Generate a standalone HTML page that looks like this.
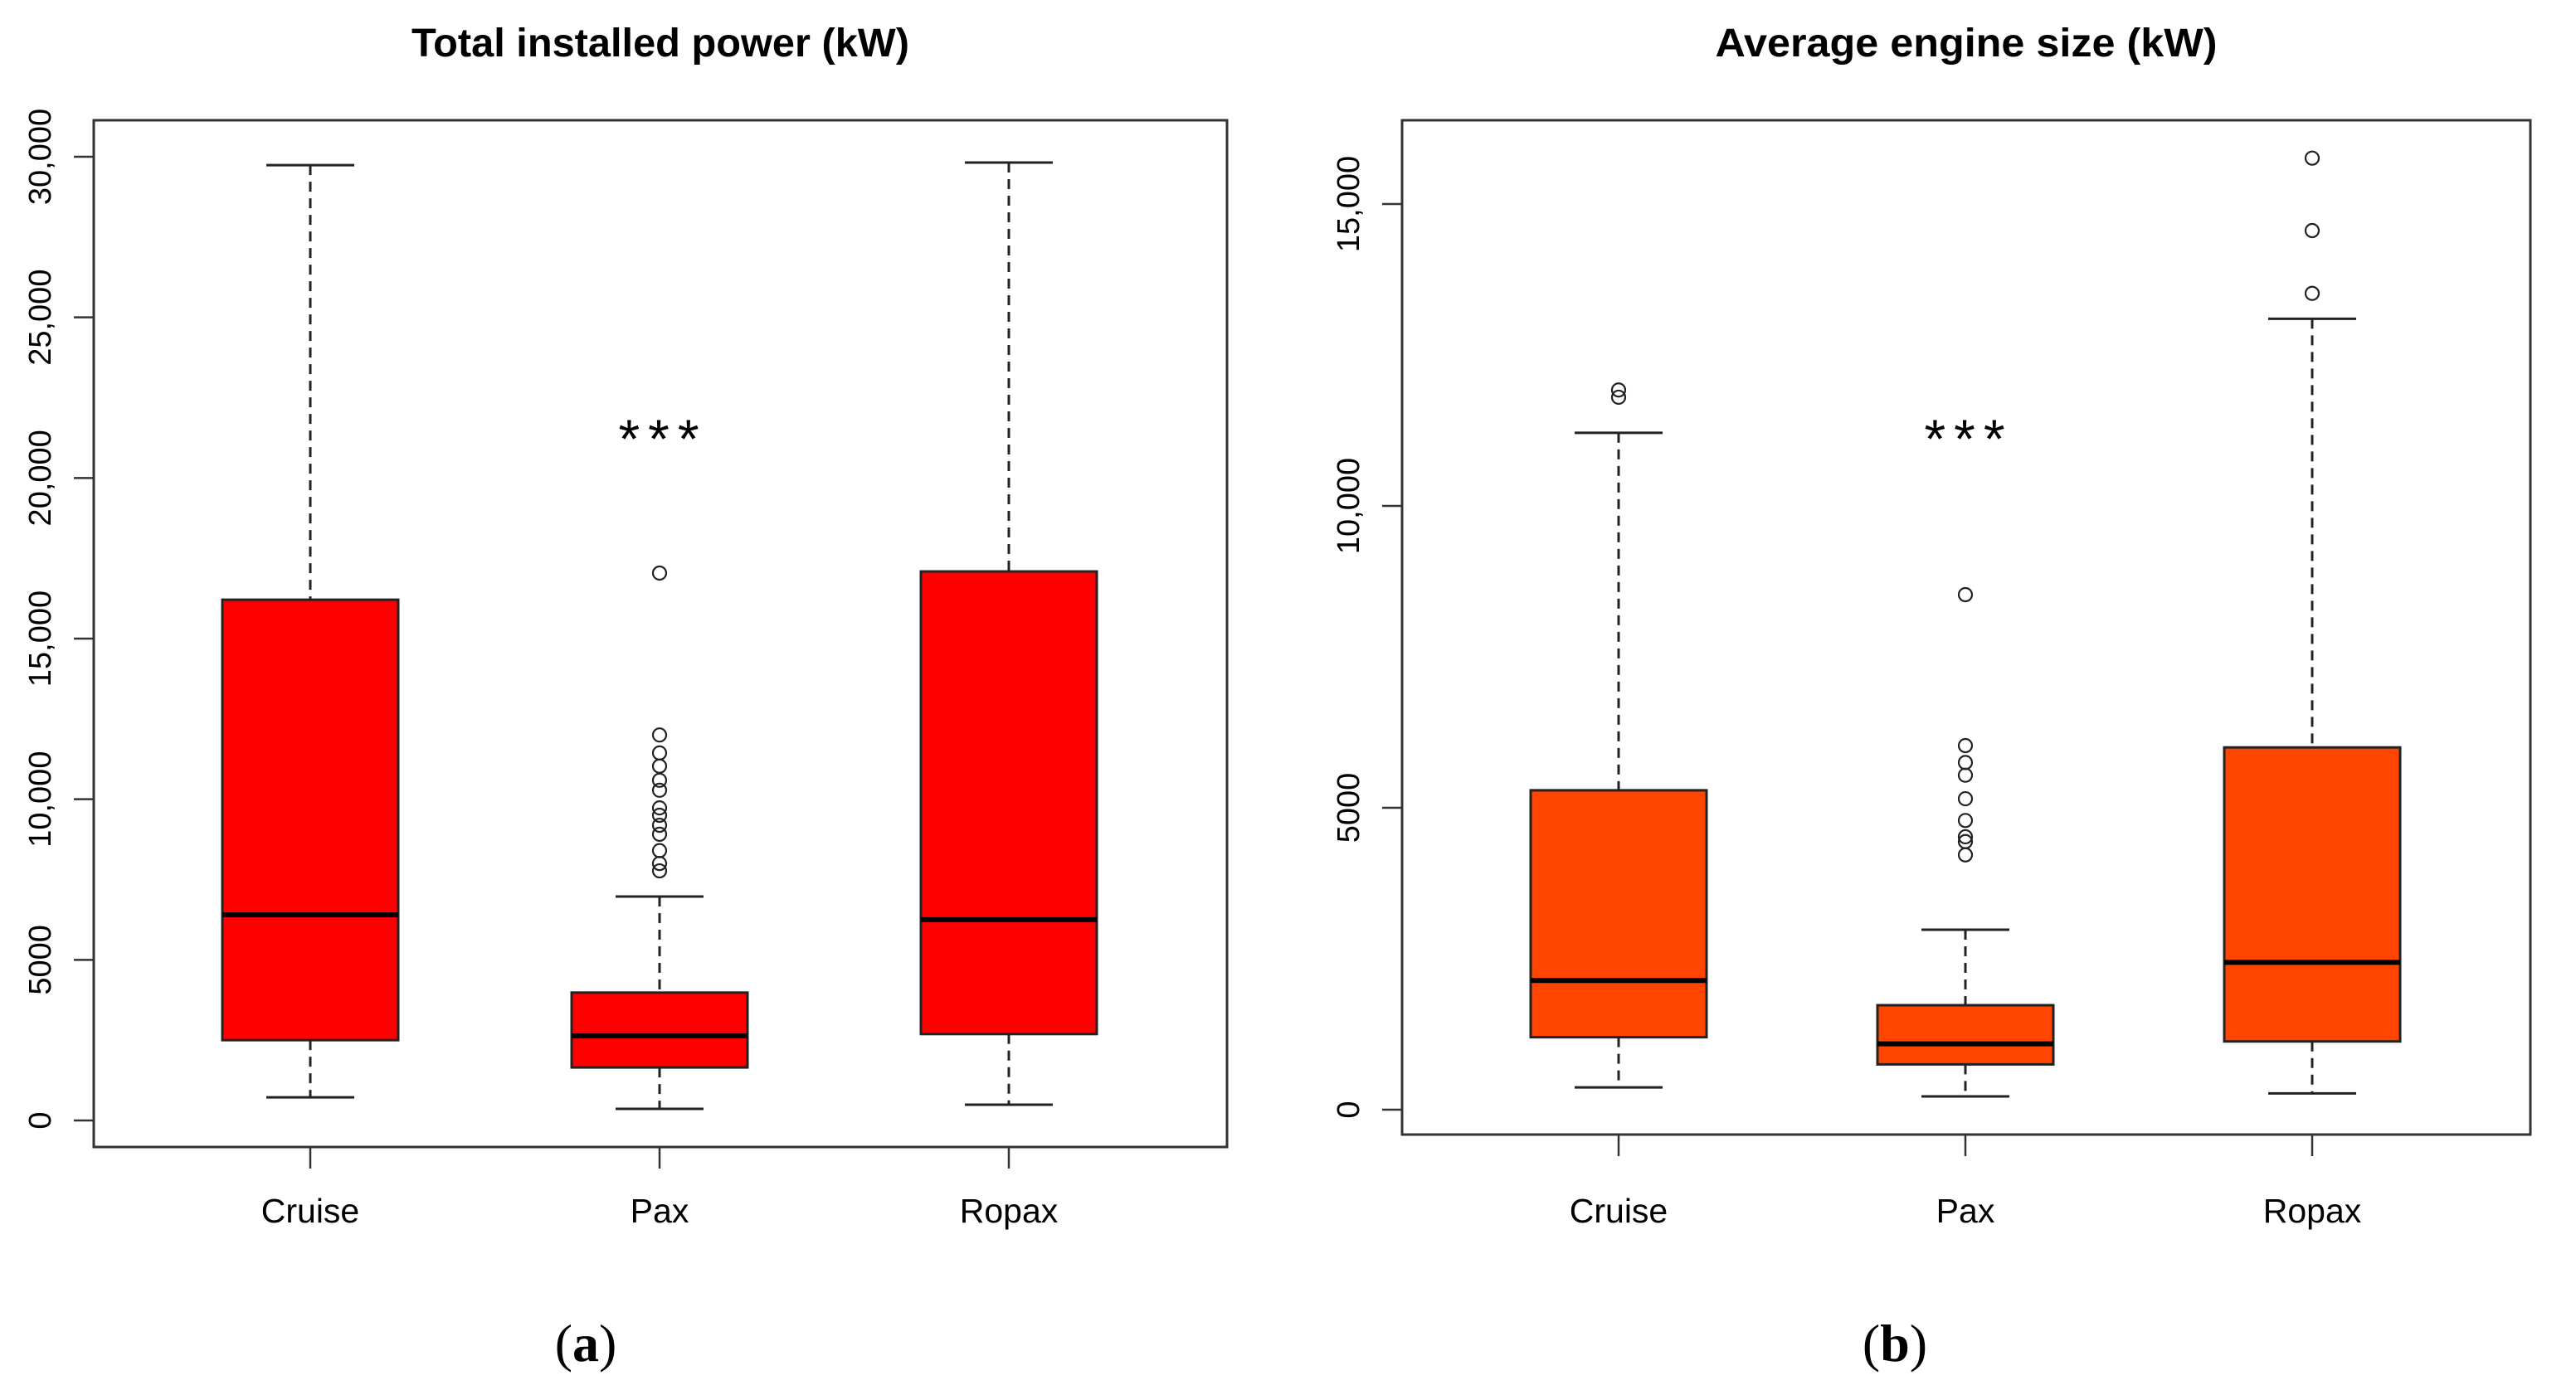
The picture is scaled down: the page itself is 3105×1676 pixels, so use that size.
<!DOCTYPE html>
<html><head><meta charset="utf-8"><style>
html,body{margin:0;padding:0;background:#fff;}
svg{display:block;}
text{font-family:"Liberation Sans",sans-serif;fill:#000;}
</style></head><body>
<svg id="fig" width="3105" height="1676" viewBox="0 0 3105 1676" xmlns="http://www.w3.org/2000/svg">
</svg>
<script>
const categories = ["Cruise","Pax","Ropax"];
// panel a: total installed power
const aLow    = [720, 360, 490];
const aQ1     = [2500, 1650, 2690];
const aMedian = [6400, 2630, 6250];
const aQ3     = [16210, 3980, 17090];
const aHigh   = [29740, 6970, 29820];
const aOutCruise = [];
const aOutPax = [17040, 12000, 11440, 11030, 10590, 10280, 9730, 9500, 9190, 8910, 8400, 8000, 7770];
const aOutRopax = [];
const aTicks = [0, 5000, 10000, 15000, 20000, 25000, 30000];
const aTickLabels = ["0","5000","10,000","15,000","20,000","25,000","30,000"];
// panel b: average engine size
const bLow    = [370, 220, 270];
const bQ1     = [1200, 750, 1130];
const bMedian = [2140, 1090, 2440];
const bQ3     = [5290, 1730, 6000];
const bHigh   = [11210, 2980, 13100];
const bOutCruise = [11920, 11800];
const bOutPax = [8530, 6030, 5750, 5540, 5150, 4790, 4520, 4440, 4220];
const bOutRopax = [15760, 14560, 13520];
const bTicks = [0, 5000, 10000, 15000];
const bTickLabels = ["0","5000","10,000","15,000"];

const NS = "http://www.w3.org/2000/svg";
const svg = document.getElementById('fig');
function el(tag, attrs, parent){
  const e = document.createElementNS(NS, tag);
  for (const k in attrs) e.setAttribute(k, attrs[k]);
  (parent||svg).appendChild(e);
  return e;
}

function panel(cfg){
  const g = el('g', {});
  
  
  const y = v => cfg.y0 - v * cfg.ppu;
  const x = i => cfg.xc0 + i * cfg.step;
  const fr = el('rect', {x:cfg.left, y:145, width:cfg.right-cfg.left, height:cfg.bottom-145, fill:'none', stroke:'#333', 'stroke-width':3}, g);
  
  
  const t = el('text', {x:(cfg.left+cfg.right)/2, y:68, 'text-anchor':'middle', 'font-size':48, 'font-weight':'bold', textLength:cfg.titleLen, lengthAdjust:'spacingAndGlyphs'}, g);
  t.textContent = cfg.title;
  
  
  cfg.ticks.forEach((v, i) => {
    el('line', {x1:cfg.left-24, x2:cfg.left, y1:y(v), y2:y(v), stroke:'#333', 'stroke-width':2.5}, g);
    const lb = el('text', {x:0, y:0, 'text-anchor':'middle', 'font-size':38, fill:'#222', transform:`translate(${cfg.left-52},${y(v)}) rotate(-90)`}, g);
    lb.textContent = cfg.tickLabels[i];
    
    
  });
  categories.forEach((c, i) => {
    const cx = x(i);
    const bg = el('g', {}, g);
    
    
    el('line', {x1:cx, x2:cx, y1:cfg.bottom, y2:cfg.bottom+26, stroke:'#333', 'stroke-width':2.5}, g);
    const cl = el('text', {x:cx, y:1474, 'text-anchor':'middle', 'font-size':41, fill:'#111'}, g);
    cl.textContent = c;
    
    
    el('line', {x1:cx, x2:cx, y1:y(cfg.high[i]), y2:y(cfg.q3[i]), stroke:'#222', 'stroke-width':3, 'stroke-dasharray':'12 8'}, bg);
    el('line', {x1:cx, x2:cx, y1:y(cfg.q1[i]), y2:y(cfg.low[i]), stroke:'#222', 'stroke-width':3, 'stroke-dasharray':'12 8'}, bg);
    el('line', {x1:cx-53, x2:cx+53, y1:y(cfg.high[i]), y2:y(cfg.high[i]), stroke:'#222', 'stroke-width':3}, bg);
    el('line', {x1:cx-53, x2:cx+53, y1:y(cfg.low[i]), y2:y(cfg.low[i]), stroke:'#222', 'stroke-width':3}, bg);
    el('rect', {x:cx-106, y:y(cfg.q3[i]), width:212, height:y(cfg.q1[i])-y(cfg.q3[i]), fill:cfg.color, stroke:'#222', 'stroke-width':3}, bg);
    el('line', {x1:cx-106, x2:cx+106, y1:y(cfg.median[i]), y2:y(cfg.median[i]), stroke:'#000', 'stroke-width':6}, bg);
    cfg.outs[i].forEach(v => {
      const o = el('circle', {cx:cx, cy:y(v), r:8, fill:'none', stroke:'#222', 'stroke-width':2.2}, bg);
      
      
    });
  });
  const st = el('text', {x:x(1)+4, y:552, 'text-anchor':'middle', 'font-size':66, 'letter-spacing':'10'}, g);
  st.textContent = '***';
  
  
  const sub = el('text', {x:cfg.subX, y:1641, 'text-anchor':'middle', 'font-size':64, style:'font-family:"Liberation Serif",serif'}, g);
  sub.innerHTML = '(<tspan font-weight="bold">' + cfg.sub + '</tspan>)';
  
  
}

panel({name:'panel-a-total-installed-power', left:113, right:1479, bottom:1383, y0:1351, ppu:1162/30000,
  xc0:374, step:421, color:'#ff0000', title:'Total installed power (kW)', titleLen:600,
  ticks:aTicks, tickLabels:aTickLabels, low:aLow, q1:aQ1, median:aMedian, q3:aQ3, high:aHigh,
  outs:[aOutCruise, aOutPax, aOutRopax], sub:'a', subX:706});
panel({name:'panel-b-average-engine-size', left:1690, right:3050, bottom:1368, y0:1338, ppu:1092/15000,
  xc0:1951, step:418, color:'#ff4500', title:'Average engine size (kW)', titleLen:605,
  ticks:bTicks, tickLabels:bTickLabels, low:bLow, q1:bQ1, median:bMedian, q3:bQ3, high:bHigh,
  outs:[bOutCruise, bOutPax, bOutRopax], sub:'b', subX:2284});
</script>
</body></html>
